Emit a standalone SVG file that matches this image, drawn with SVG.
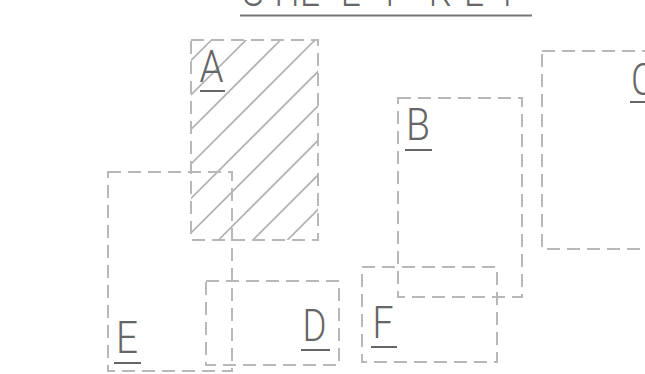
<svg xmlns="http://www.w3.org/2000/svg" width="645" height="374" viewBox="0 0 645 374">
<style>
.box{fill:none;stroke:#b8b8b8;stroke-width:2;stroke-dasharray:13 7}
.hatch{stroke:#b0b0b0;stroke-width:1.6}
.lbl{font-family:Roboto,"Liberation Sans",sans-serif;font-weight:300;font-size:44px;fill:#666;text-anchor:middle}
.ul{stroke:#666;stroke-width:2}
.title{font-family:Roboto,"Liberation Sans",sans-serif;font-weight:300;font-size:44px;fill:#666}
</style>
<defs>
<clipPath id="clipA"><rect x="191" y="40" width="127" height="200"/></clipPath>
</defs>
<g id="title">
<text class="title" transform="scale(0.8,1)" y="5.5" x="303 343 375 426 474 505 536 580 621">SHEET KEY</text>
<line x1="240" y1="15.5" x2="532" y2="15.5" stroke="#777" stroke-width="2"/>
</g>
<g id="nodeA">
<g clip-path="url(#clipA)" class="hatch">
<line x1="191" y1="60.5" x2="251.5" y2="0"/>
<line x1="191" y1="95" x2="286" y2="0"/>
<line x1="191" y1="129.5" x2="320.5" y2="0"/>
<line x1="191" y1="164" x2="355" y2="0"/>
<line x1="191" y1="198.5" x2="389.5" y2="0"/>
<line x1="191" y1="233" x2="424" y2="0"/>
<line x1="191" y1="267.5" x2="458.5" y2="0"/>
<line x1="191" y1="302" x2="493" y2="0"/>
<line x1="191" y1="336.5" x2="527.5" y2="0"/>
</g>
<rect class="box" x="191" y="40" width="127" height="200"/>
<text class="lbl" x="211.5" y="82" textLength="24" lengthAdjust="spacingAndGlyphs">A</text>
<line class="ul" x1="200" y1="91" x2="225" y2="91"/>
</g>
<g id="nodeB">
<rect class="box" x="398" y="98" width="124" height="199"/>
<text class="lbl" x="418" y="140" textLength="24" lengthAdjust="spacingAndGlyphs">B</text>
<line class="ul" x1="405" y1="150" x2="432" y2="150"/>
</g>
<g id="nodeC">
<rect class="box" x="542" y="51" width="120" height="198"/>
<text class="lbl" x="643" y="95" textLength="24" lengthAdjust="spacingAndGlyphs">C</text>
<line class="ul" x1="630" y1="102" x2="650" y2="102"/>
</g>
<g id="nodeD">
<rect class="box" x="206" y="281" width="133" height="84"/>
<text class="lbl" x="314.5" y="341" textLength="24" lengthAdjust="spacingAndGlyphs">D</text>
<line class="ul" x1="301" y1="350" x2="330" y2="350"/>
</g>
<g id="nodeE">
<rect class="box" x="108" y="172" width="124" height="199"/>
<text class="lbl" x="127" y="353" textLength="22" lengthAdjust="spacingAndGlyphs">E</text>
<line class="ul" x1="114" y1="363" x2="141" y2="363"/>
</g>
<g id="nodeF">
<rect class="box" x="362" y="267" width="135" height="95"/>
<text class="lbl" x="383" y="338" textLength="21" lengthAdjust="spacingAndGlyphs">F</text>
<line class="ul" x1="371" y1="347" x2="397" y2="347"/>
</g>
<g id="connectors"/>
</svg>
